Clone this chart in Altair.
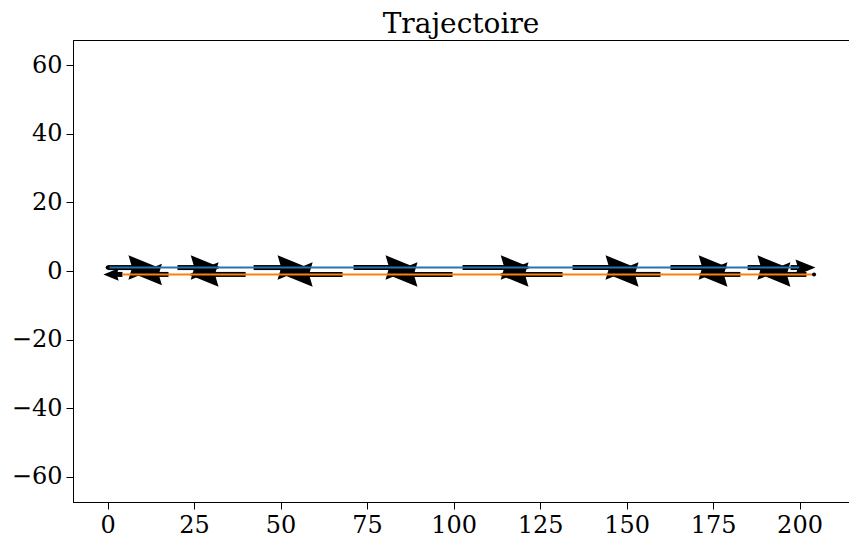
import altair as alt
import pandas as pd

# ---- data ----
fwd_tail_x = [0.0, 20.2, 42.2, 71.1, 102.6, 134.4, 162.7, 185.0, 197.4]
fwd_tip_x = [14.7, 32.7, 57.8, 89.0, 122.3, 152.6, 179.5, 196.5, 204.6]
ret_tail_x = [202.0, 182.9, 159.8, 131.5, 99.7, 67.9, 39.9, 17.6, 4.3]
ret_tip_x = [188.7, 170.5, 144.8, 113.0, 80.9, 50.6, 23.4, 8.1, -1.2]
fwd_y = 1.0
ret_y = -1.0
fwd_line_x = [0.0, 199.9]
ret_line_x = [204.2, 4.3]
x_ticks = [0, 25, 50, 75, 100, 125, 150, 175, 200]
y_ticks = [-60, -40, -20, 0, 20, 40, 60]

X_DOM = [-10.0, 214.3]
Y_DOM = [-67.3, 67.3]
W, H = 776, 462
PXU = W / (X_DOM[1] - X_DOM[0])

rows = []
for tails, tips, yv, d in [(fwd_tail_x, fwd_tip_x, fwd_y, 1), (ret_tail_x, ret_tip_x, ret_y, -1)]:
    for t, p in zip(tails, tips):
        ln_px = abs(p - t) * PXU
        hl = min(30.0, 0.8 * ln_px)
        hd = hl / PXU
        rows.append({
            "tail": t, "tip": p, "y": yv,
            "shaft_end": p - d * 0.85 * hd,
            "size": hl * hl,
            "angle": 0 if d == 1 else 180,
        })
arrows = pd.DataFrame(rows)

line_rows = []
for i, x in enumerate(fwd_line_x):
    line_rows.append({"x": x, "y": fwd_y, "series": "fwd", "order": i})
for i, x in enumerate(ret_line_x):
    line_rows.append({"x": x, "y": ret_y, "series": "ret", "order": i})
lines = pd.DataFrame(line_rows)

starts = pd.DataFrame({"x": [fwd_line_x[0], ret_line_x[0]], "y": [fwd_y, ret_y]})

xs = alt.Scale(domain=X_DOM, nice=False, zero=False)
ys = alt.Scale(domain=Y_DOM, nice=False, zero=False)
xax = alt.Axis(values=x_ticks, title=None, grid=False)
yax = alt.Axis(values=y_ticks, title=None, grid=False)

shafts = alt.Chart(arrows).mark_rule(strokeWidth=5, color="black", strokeCap="butt").encode(
    x=alt.X("tail:Q", scale=xs, axis=xax), x2="shaft_end:Q",
    y=alt.Y("y:Q", scale=ys, axis=yax),
)
heads = alt.Chart(arrows).mark_point(
    shape="M0,0 L-2,-0.82 L-1.76,0 L-2,0.82 Z", filled=True, color="black", opacity=1, strokeWidth=0
).encode(
    x=alt.X("tip:Q", scale=xs), y=alt.Y("y:Q", scale=ys),
    size=alt.Size("size:Q", scale=None, legend=None),
    angle=alt.Angle("angle:Q", scale=None),
)
traj = alt.Chart(lines).mark_line(strokeWidth=2).encode(
    x=alt.X("x:Q", scale=xs), y=alt.Y("y:Q", scale=ys),
    color=alt.Color("series:N", scale=alt.Scale(domain=["fwd", "ret"], range=["#1f77b4", "#ff7f0e"]), legend=None),
    order="order:Q",
)
dots = alt.Chart(starts).mark_point(filled=True, color="black", size=16, opacity=1).encode(
    x=alt.X("x:Q", scale=xs), y=alt.Y("y:Q", scale=ys),
)

chart = alt.layer(shafts, heads, traj, dots).properties(
    width=W, height=H,
    title=alt.TitleParams("Trajectoire", font="DejaVu Serif", fontSize=28, fontWeight="normal",
                          color="black", anchor="middle", offset=1),
    autosize=alt.AutoSizeParams(type="none"),
    padding={"left": 65, "top": 32, "right": 0, "bottom": 35},
).configure_view(stroke="black", strokeWidth=1).configure_axis(
    labelFont="DejaVu Serif", labelFontSize=24, labelColor="black",
    tickColor="black", tickSize=7, domainColor="black", labelPadding=4,
)

chart.save("out.html", embed_options={"renderer": "svg", "actions": False})
